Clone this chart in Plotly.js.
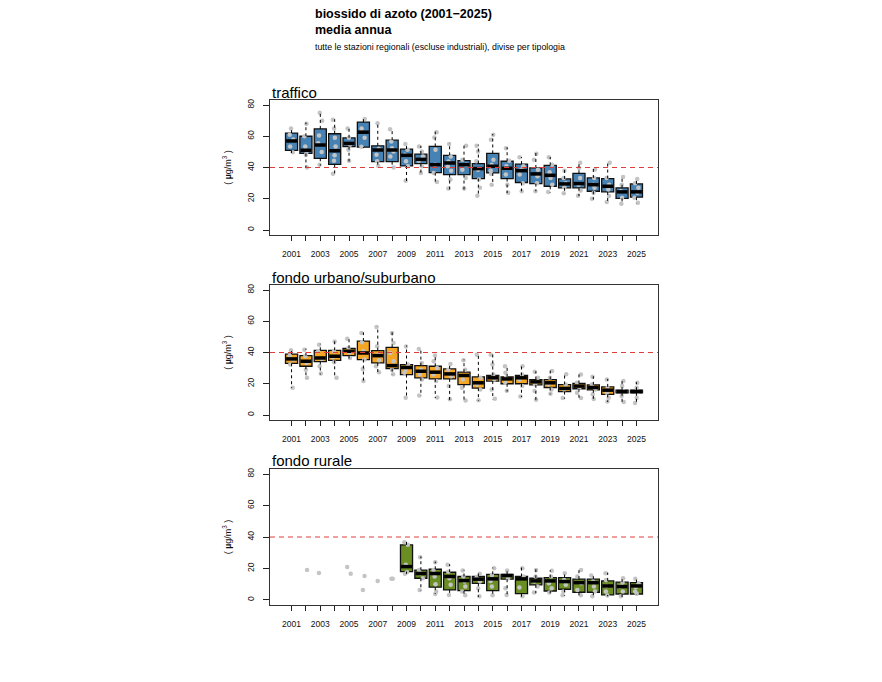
<!DOCTYPE html>
<html>
<head>
<meta charset="utf-8">
<script src="https://cdn.plot.ly/plotly-3.0.1.min.js"></script>
<style>html,body{margin:0;padding:0;background:#fff;}#chart{width:882px;height:682px;}</style>
</head>
<body>
<div id="chart"></div>
<script>
// ---------- DATA ----------
const years = [2001,2002,2003,2004,2005,2006,2007,2008,2009,2010,2011,2012,2013,2014,2015,2016,2017,2018,2019,2020,2021,2022,2023,2024,2025];
const LIMIT = 40;

const panelTitles = ["traffico", "fondo urbano/suburbano", "fondo rurale"];

// traffico
const traffico_q1  = [51,49,45.9,42,53.3,53,43.7,43.7,41,42.5,36.7,35.5,35.5,32.9,36.5,32.9,30.4,29.7,28,27,27,24.8,24.4,20.2,21];
const traffico_med = [57,51,54.4,50.7,55.4,62.6,51.2,51.2,47.8,45.2,41.8,42.9,41.8,39.3,40.8,39.5,38,35.9,35,29.5,29.7,29,28,24.4,24.4];
const traffico_q3  = [62,60,64.7,61.6,59,69,53.9,57.5,51.8,48.6,53.5,47.8,44.4,42.5,49,44,42.2,39.7,41.4,32.7,36.3,33.3,32.9,27,29.5];
const traffico_lo  = [49.3,39.7,41.2,35.9,43.9,52.4,40.8,39.7,31.2,35.9,30.1,25.9,25.9,21.7,28.7,23.6,24.8,24.8,23.8,23.1,21.7,19.5,17.6,16.3,17];
const traffico_hi  = [65.6,68.8,75.8,70.9,65.6,71.5,68.8,65.2,55.2,53.9,63,55.6,54.6,54.6,61.4,52.9,46.7,49.3,46.7,38.6,43.5,39.3,43.5,34.4,33.3];
const traffico_pts = [
  [65,61,58,53.5,49.7],[68,60,53.5,50,48,40],[75,70,60.5,55.6,50,41.8],[70.5,65,59,53.5,47.8,44.4,36],
  [65,59,54.6,51.4,44.4],[71,65,59,53.3],[68.4,52,48.2,44,41],[64.5,56.7,52.4,50.3,47,40],
  [55,51.4,48.2,44,40.8,31.6],[53.5,50.3,47,44.4,40.8,36.5],[62.6,59.2,51.4,41.8,36.5,30.8],[55,47,43.9,40.8,38,32.3,26.5],
  [54,45,41.8,38.6,33.3,26.5],[54,50.3,44,38.6,32.3,27,22],[61,57.7,45,41.8,38,35.9,29],[52.4,44.4,40.8,35.5,29,23.8],
  [46.5,40.8,38.6,35.5,30,24.8],[48.8,45,38.6,34.4,30,24.8],[46.5,41.8,37,33.3,29,24.4],[38,33.3,30,27.4,23.6],
  [43,39.7,33.3,29,25.3,22],[38.8,33.3,29,27,23.8,20],[43,33.3,29,25.9,21.7,18],[34,29,24.8,20.6,16.8],[32.7,30,27,23.8,20.6,17.4]
];

// fondo urbano/suburbano
const urbano_q1  = [33.1,31.2,34.2,35,38,35.5,33.3,29.7,25.9,23.8,23.1,23.1,19.5,17.2,21.7,20,20,19.3,17.6,15,16.8,16.1,13.2,14.2,14.2];
const urbano_med = [35.9,34.4,36.5,37.6,40.8,39.7,38,31.6,30.4,28,27.4,26.3,25.3,20.6,23.8,23.1,23.8,21.2,20.6,17,18.5,17.6,15.9,15,15];
const urbano_q3  = [39,38,41.4,41.4,42.7,47.3,41.2,43.3,32.3,31.6,31.2,29.5,27.4,24.4,25.3,24.4,25.3,22.7,22.7,19.5,20.2,19.3,18,15.9,15.9];
const urbano_lo  = [17.2,23.4,25.9,23.4,35.5,21.2,27,25.7,10.6,12.1,10.8,9.5,8.9,9.1,10,15,11.5,9.3,13.2,10.4,10.4,9.8,8.3,7.9,7.2];
const urbano_hi  = [41.8,42.5,45.6,47.8,49.3,52.9,56.7,52.9,44.4,42.7,38.6,33.3,35.5,39,39,31.6,31.6,28,28.7,26.5,26.3,24.8,23.1,22,21];
const urbano_pts = [
  [41.4,38,35.5,32.3,17.4],[41.8,37.6,33.3,29,23.8],[45,40.8,35.9,31.2,26.5],[47,40.8,37,33.8,23.8],
  [48.8,42.9,40,36.5],[52.4,46.5,40.8,35.5,29.5,21.7],[56.3,44,38.6,35,31.2,27.4],[52.4,46,39.7,34.4,29,26.1],
  [43.9,32.3,29,27,11],[42.2,33.3,29,25.9,22.7,12.5],[38,34.4,30,25.9,21.7,11.2],[32.7,29,24.8,18.5,10],
  [35,29,22.7,17.4,9.3],[38.6,23.8,19.5,16.3,9.5],[38.6,32.3,25.9,22.7,16.3,10.4],[31.2,27,23.8,20.6,15.5],
  [31.2,25.9,22.7,18.5,11.9],[27.6,23.8,19.5,15.3,9.8],[28.2,23.8,19.5,16.3,13.6],[26.1,19.5,16.3,10.8],
  [25.9,20.6,17.4,14.2,10.8],[24.4,19.5,16.3,13.2,10.2],[22.7,17.4,14.2,11,8.7],[21.7,18.5,15.3,12.1,8.3],[20.6,17.4,14.6,11,7.6]
];

// fondo rurale
const rurale_q1  = [null,null,null,null,null,null,null,null,18,13.8,8.1,6.4,5.9,10.6,5.9,13.2,4,9.6,5.7,6.8,4.9,4.9,3.2,3.8,3.8];
const rurale_med = [null,null,null,null,null,null,null,null,21.2,16.8,16.8,14.9,12.3,13.2,13.4,15.5,13.4,12.1,12.1,11.7,11,11,8.9,8.5,8.9];
const rurale_q3  = [null,null,null,null,null,null,null,null,35,18.9,19.5,17.6,14.9,14.9,16.3,16.3,14.9,13.8,14.2,14.2,13.2,13.2,12.1,11.3,11];
const rurale_lo  = [null,null,null,null,null,null,null,null,16.6,5.9,3.8,2.8,2.5,1.9,2.5,2.3,1.9,4.2,4.2,2.5,2.5,1.9,2.3,1.9,3.6];
const rurale_hi  = [null,null,null,null,null,null,null,null,37.2,27.6,24.4,22.7,19.1,17,20.6,19.1,20.6,19.5,18.9,17.6,19.5,15.9,17.4,14.4,13.8];
const rurale_pts = [
  [],[19.1],[17.2],[],[21,16.6],[15.3,6.4],[12.1],[13.4,13.4],
  [36.7,35,22.3,17.6,16.6],[27.2,19.1,17,13.8,6.4],[24,19.1,14.9,10,5.3,3.8],[22.3,18,13.8,9.6,3.2],
  [18.7,14.9,11.7,8.5,5.3,3],[16.6,14.2,11.7,7.4,2.3],[20.2,15.9,12.1,8.5,3],[18.7,15.9,13.8,7.4,3.2],
  [20.2,14.9,7.9,2.3],[19.1,14.9,11.7,8.5,4.7],[18.5,14.9,10.6,7.4,4.7],[17,12.7,9.6,5.3,3],
  [19.1,14.9,10.6,6.4,3],[15.5,11.7,8.5,5.3,2.3],[17,12.7,8.9,5.3,2.8],[13.8,11,8.5,5.3,2.3],[13.4,10.6,8.1,5.3,4]
];

// ---------- STYLE ----------
const FONT = '"Liberation Sans", Arial, Helvetica, sans-serif';
const BOX_W = 0.84;
const XRANGE = [1999.5, 2026.5];
const panels = [
  {q1:traffico_q1, med:traffico_med, q3:traffico_q3, lo:traffico_lo, hi:traffico_hi, pts:traffico_pts, color:'#4682B4'},
  {q1:urbano_q1,   med:urbano_med,   q3:urbano_q3,   lo:urbano_lo,   hi:urbano_hi,   pts:urbano_pts,   color:'#F5A623'},
  {q1:rurale_q1,   med:rurale_med,   q3:rurale_q3,   lo:rurale_lo,   hi:rurale_hi,   pts:rurale_pts,   color:'#6B8E23'}
];
const H = 682;
const domains = [[1-235/H, 1-100/H], [1-420/H, 1-285/H], [1-605/H, 1-469/H]];
const titleY = [1-92/H, 1-277/H, 1-461/H];

const traces = [];
const annotations = [];
const layout = {
  width: 882, height: 682,
  margin: {l: 270, r: 224, t: 0, b: 0},
  paper_bgcolor: '#ffffff', plot_bgcolor: '#ffffff',
  showlegend: false,
  font: {family: FONT, color: '#000'},
  barmode: 'overlay', boxmode: 'overlay',
  hovermode: false
};

panels.forEach((p, i) => {
  const n = i === 0 ? '' : String(i + 1);
  const xa = 'x' + n, ya = 'y' + n;

  // boxes (q1..q3)
  traces.push({
    type: 'bar', x: years, base: p.q1,
    y: p.q3.map((v, k) => v == null ? null : v - p.q1[k]),
    width: years.map(() => BOX_W),
    marker: {color: p.color, line: {color: '#111', width: 1.3}},
    xaxis: xa, yaxis: ya, hoverinfo: 'skip'
  });

  // whiskers (dashed)
  const wx = [], wy = [];
  years.forEach((yr, k) => {
    if (p.q1[k] == null) return;
    wx.push(yr, yr, null, yr, yr, null);
    wy.push(p.q3[k], p.hi[k], null, p.q1[k], p.lo[k], null);
  });
  traces.push({type: 'scatter', mode: 'lines', x: wx, y: wy,
    line: {color: '#000', width: 1, dash: '3px,3px'}, xaxis: xa, yaxis: ya, hoverinfo: 'skip'});

  // medians (thick)
  const mx = [], my = [];
  years.forEach((yr, k) => {
    if (p.med[k] == null) return;
    mx.push(yr - BOX_W / 2 + 0.04, yr + BOX_W / 2 - 0.04, null);
    my.push(p.med[k], p.med[k], null);
  });
  traces.push({type: 'scatter', mode: 'lines', x: mx, y: my,
    line: {color: '#000', width: 3.5}, xaxis: xa, yaxis: ya, hoverinfo: 'skip'});

  // limit value line
  traces.push({type: 'scatter', mode: 'lines', x: XRANGE, y: [LIMIT, LIMIT], cliponaxis: true,
    line: {color: '#e03c3c', width: 1.2, dash: '5px,4px'}, xaxis: xa, yaxis: ya, hoverinfo: 'skip'});

  // station points (jittered by the library)
  const px = [], py = [];
  years.forEach((yr, k) => p.pts[k].forEach(v => { px.push(yr); py.push(v); }));
  traces.push({
    type: 'box', x: px, y: py, boxpoints: 'all', jitter: 0.5, pointpos: 0,
    width: 0.6, fillcolor: 'rgba(0,0,0,0)', line: {width: 0, color: 'rgba(0,0,0,0)'},
    whiskerwidth: 0,
    marker: {color: '#c4c4c4', size: 4.5, line: {width: 0}},
    xaxis: xa, yaxis: ya, hoverinfo: 'skip'
  });

  layout['xaxis' + n] = {
    domain: [0, 1], anchor: ya, range: XRANGE,
    tickmode: 'array', tickvals: years, ticktext: years.map(y => (y % 2 === 1) ? String(y) : ''),
    ticks: 'outside', ticklen: 5, tickwidth: 1, tickcolor: '#222',
    showline: true, mirror: true, linecolor: '#333', linewidth: 1,
    showgrid: false, zeroline: false, ticklabelstandoff: 6,
    tickfont: {family: FONT, size: 8.5, color: '#111'}, fixedrange: true
  };
  layout['yaxis' + n] = {
    domain: domains[i], anchor: xa, range: [-3.2, 83.2],
    tickmode: 'array', tickvals: [0, 20, 40, 60, 80],
    tickangle: -90, ticks: 'outside', ticklen: 6, tickwidth: 1, tickcolor: '#222',
    showline: true, mirror: true, linecolor: '#333', linewidth: 1,
    showgrid: false, zeroline: false, ticklabelstandoff: 6,
    tickfont: {family: FONT, size: 8.5, color: '#111'}, fixedrange: true,
    title: {text: '( <b>µ</b>g/m<sup>3</sup> )', font: {family: FONT, size: 9, color: '#111'}, standoff: 12}
  };

  annotations.push({xref: 'paper', yref: 'paper', x: 0, y: titleY[i], xanchor: 'left', yanchor: 'middle',
    text: panelTitles[i], showarrow: false, font: {family: FONT, size: 15, color: '#000'}});
});

annotations.push(
  {xref: 'paper', yref: 'paper', x: (313 - 270) / 388, y: 1 - 14 / H, xanchor: 'left', yanchor: 'middle',
   text: '<b>biossido di azoto (2001\u22122025)</b>', showarrow: false, font: {family: FONT, size: 12.5, color: '#000'}},
  {xref: 'paper', yref: 'paper', x: (313 - 270) / 388, y: 1 - 30 / H, xanchor: 'left', yanchor: 'middle',
   text: '<b>media annua</b>', showarrow: false, font: {family: FONT, size: 12.5, color: '#000'}},
  {xref: 'paper', yref: 'paper', x: (313 - 270) / 388, y: 1 - 47 / H, xanchor: 'left', yanchor: 'middle',
   text: 'tutte le stazioni regionali (escluse industriali), divise per tipologia', showarrow: false,
   font: {family: FONT, size: 8.8, color: '#000'}}
);

layout.annotations = annotations;

Plotly.newPlot('chart', traces, layout, {displayModeBar: false, staticPlot: true});
</script>
</body>
</html>
